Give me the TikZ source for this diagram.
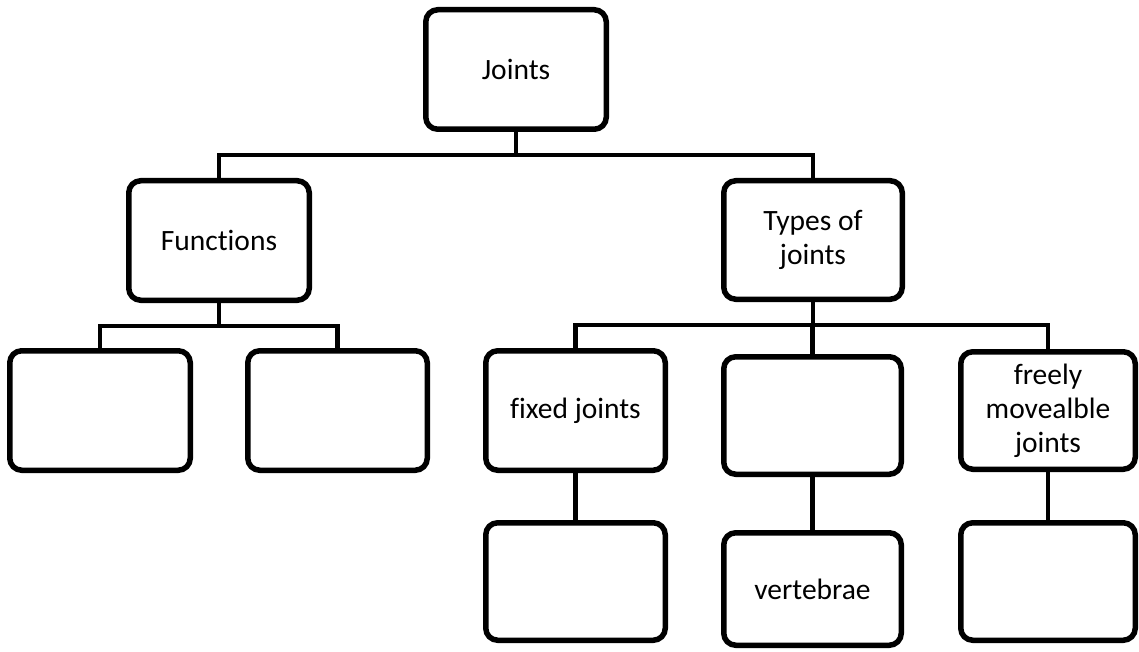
\documentclass[tikz,border=0pt]{standalone}
\usepackage{fontspec}
\setmainfont{Carlito}[Ligatures={NoCommon}]
\begin{document}
\begin{tikzpicture}[x=1pt,y=-1pt,
  box/.style={draw, line width=5.5pt, rounded corners=12pt, inner sep=0pt, align=center,
    font=\fontsize{29.5pt}{34pt}\selectfont},
  conn/.style={line width=4.5pt}]
\useasboundingbox (0,0) rectangle (1139,652);
\node[box, minimum width=180.5pt, minimum height=119.5pt] (joints) at (516,69.5) {Joints};
\node[box, minimum width=180.5pt, minimum height=119.5pt] (func) at (219,240.5) {Functions};
\node[box, minimum width=178.5pt, minimum height=118.5pt] (types) at (813,240) {Types of\\joints};
\node[box, minimum width=180.5pt, minimum height=119.5pt] (L1) at (100,410.5) {};
\node[box, minimum width=179.5pt, minimum height=119.5pt] (L2) at (337.5,410.5) {};
\node[box, minimum width=179.5pt, minimum height=119.5pt] (fixed) at (575.5,410.5) {fixed joints};
\node[box, minimum width=177.5pt, minimum height=117.5pt] (middle) at (812.5,415.5) {};
\node[box, minimum width=174.5pt, minimum height=117.5pt] (freely) at (1048,410.5) {freely\\movealble\\joints};
\node[box, minimum width=179.5pt, minimum height=117.5pt] (fixedb) at (575.5,581.5) {};
\node[box, minimum width=177.5pt, minimum height=112.5pt] (vert) at (812.5,589) {vertebrae};
\node[box, minimum width=174.5pt, minimum height=117.5pt] (freelyb) at (1048,581.5) {};
\coordinate (bus1) at (0,155);
\coordinate (bus2) at (0,326);
\coordinate (bus3) at (0,325);
\draw[conn] (joints.south) -- (joints.south |- bus1);
\draw[conn] (func.north) |- (types.north |- bus1) -- (types.north);
\draw[conn] (func.south) -- (func.south |- bus2);
\draw[conn] (L1.north) |- (L2.north |- bus2) -- (L2.north);
\draw[conn] (types.south) -- (types.south |- bus3);
\draw[conn] (fixed.north) |- (freely.north |- bus3) -- (freely.north);
\draw[conn] (middle.north) -- (middle.north |- bus3);
\draw[conn] (fixed.south) -- (fixedb.north);
\draw[conn] (middle.south) -- (vert.north);
\draw[conn] (freely.south) -- (freelyb.north);
\end{tikzpicture}
\end{document}
